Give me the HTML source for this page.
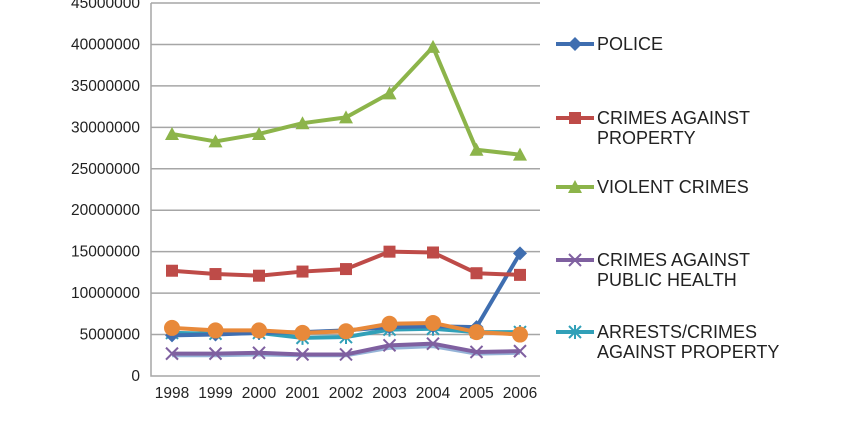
<!DOCTYPE html>
<html><head><meta charset="utf-8"><style>
body{margin:0;background:#fff;width:850px;height:417px;overflow:hidden;font-family:"Liberation Sans",sans-serif}
</style></head><body>
<svg id="c" width="850" height="417"></svg>
<script>
const years=["1998","1999","2000","2001","2002","2003","2004","2005","2006"];
const yTicks=[0,5000000,10000000,15000000,20000000,25000000,30000000,35000000,40000000,45000000];
const police=[4.9,5.0,5.2,5.3,5.5,5.9,6.0,5.9,14.8];
const property=[12.7,12.3,12.1,12.6,12.9,15.0,14.9,12.4,12.2];
const violent=[29.2,28.3,29.2,30.5,31.2,34.1,39.7,27.3,26.7];
const publicHealth=[2.7,2.7,2.8,2.6,2.6,3.7,3.9,2.9,3.0];
const lightSeries=[2.5,2.5,2.6,2.5,2.5,3.4,3.6,2.7,2.8];
const arrests=[5.2,5.1,5.2,4.6,4.7,5.6,5.7,5.3,5.3];
const orangeSeries=[5.8,5.5,5.5,5.2,5.4,6.3,6.4,5.3,5.0];
const NS="http://www.w3.org/2000/svg",svg=document.getElementById('c');
const X0=151,X1=540,Y0=376,Y45=3;
const xs=i=>172+i*43.5;
const ys=v=>Y0-(v/45000000)*(Y0-Y45);
function mk(t,a,p){const e=document.createElementNS(NS,t);for(const k in a)e.setAttribute(k,a[k]);(p||svg).appendChild(e);return e;}
yTicks.forEach(v=>{
 if(v>0){const g=mk('line',{x1:X0,x2:X1,y1:ys(v),y2:ys(v),stroke:'#a6a6a6','stroke-width':1.5});
 
 }
 const t=mk('text',{x:140,y:ys(v)+5,'text-anchor':'end','font-size':15.5,fill:'#222'});t.textContent=v;
 
 
});
const ax=mk('path',{d:`M${X0} ${Y45}V${Y0}H${X1}`,stroke:'#a6a6a6','stroke-width':1.5,fill:'none'});


years.forEach((y,i)=>{const t=mk('text',{x:xs(i),y:398,'text-anchor':'middle','font-size':15.5,fill:'#222'});t.textContent=y;
 
 });
function marker(type,x,y,col,p){
 if(type==='diamond')return mk('path',{d:`M${x} ${y-7}L${x+7} ${y}L${x} ${y+7}L${x-7} ${y}Z`,fill:col},p);
 if(type==='square')return mk('rect',{x:x-6,y:y-6,width:12,height:12,fill:col},p);
 if(type==='triangle')return mk('path',{d:`M${x} ${y-7}L${x+7} ${y+6}L${x-7} ${y+6}Z`,fill:col},p);
 if(type==='circle')return mk('circle',{cx:x,cy:y,r:8,fill:col},p);
 if(type==='x')return mk('path',{d:`M${x-6} ${y-6}L${x+6} ${y+6}M${x+6} ${y-6}L${x-6} ${y+6}`,stroke:col,'stroke-width':2},p);
 if(type==='star')return mk('path',{d:`M${x-6} ${y-6}L${x+6} ${y+6}M${x+6} ${y-6}L${x-6} ${y+6}M${x} ${y-7}V${y+7}`,stroke:col,'stroke-width':2},p);
 return null;
}
const series=[
 ['light-series',lightSeries,'#95b3d7',null],
 ['public-health',publicHealth,'#7f60a0','x'],
 ['arrests',arrests,'#31a0b8','star'],
 ['police',police,'#3f6eb0','diamond'],
 ['orange-series',orangeSeries,'#e8893a','circle'],
 ['property',property,'#be4b48','square'],
 ['violent',violent,'#8cb44a','triangle']
];
series.forEach(([n,d,col,m])=>{
 const g=mk('g',{});
 
 
 mk('polyline',{points:d.map((v,i)=>xs(i)+','+ys(v*1e6)).join(' '),fill:'none',stroke:col,'stroke-width':4,'stroke-linejoin':'round'},g);
 if(m)d.forEach((v,i)=>{const e=marker(m,xs(i),ys(v*1e6),col,g);
  
  });
});
const legend=[['POLICE','','#3f6eb0','diamond',44],['CRIMES AGAINST','PROPERTY','#be4b48','square',118],['VIOLENT CRIMES','','#8cb44a','triangle',187],['CRIMES AGAINST','PUBLIC HEALTH','#7f60a0','x',260],['ARRESTS/CRIMES','AGAINST PROPERTY','#31a0b8','star',332]];
legend.forEach(([a,b,col,m,y])=>{
 const g=mk('g',{});
 
 
 mk('line',{x1:556,x2:594,y1:y,y2:y,stroke:col,'stroke-width':4},g);
 marker(m,575,y,col,g);
 const t=mk('text',{x:597,y:y+6,'font-size':18,fill:'#222'},g);t.textContent=a;
 if(b){const t2=mk('text',{x:597,y:y+26,'font-size':18,fill:'#222'},g);t2.textContent=b;}
});
</script>
</body></html>
